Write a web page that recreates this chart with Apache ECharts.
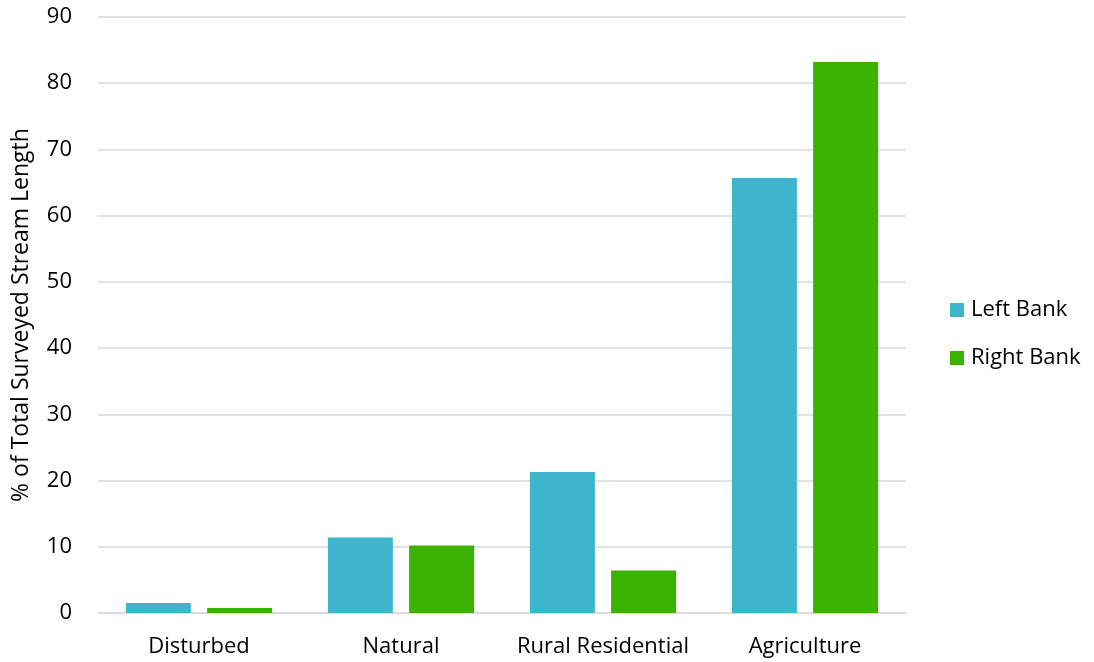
<!DOCTYPE html>
<html>
<head>
<meta charset="utf-8">
<script src="https://cdn.jsdelivr.net/npm/echarts@6/dist/echarts.min.js"></script>
<style>
  html, body { margin: 0; padding: 0; background: #fff; }
  #chart { width: 1094px; height: 662px; }
</style>
</head>
<body>
<div id="chart"></div>
<script>
// Land use along surveyed stream banks, percent of total length
const categories = ['Disturbed', 'Natural', 'Rural Residential', 'Agriculture'];
const leftBank = [1.5, 11.4, 21.3, 65.7];
const rightBank = [0.75, 10.2, 6.4, 83.2];
const seriesNames = ['Left Bank', 'Right Bank'];
const yAxisTitle = '% of Total Surveyed Stream Length';

const FONT = 'Open Sans';
const SIZE = 22;
const chart = echarts.init(document.getElementById('chart'), null, { renderer: 'canvas' });

chart.setOption({
  animation: false,
  color: ['#3cb5cd', '#3cb200'],
  textStyle: { fontFamily: FONT },
  grid: { left: 98, right: 188, top: 17, bottom: 49, containLabel: false, outerBoundsMode: 'none' },
  legend: {
    orient: 'vertical',
    left: 945,
    top: 294,
    itemWidth: 14,
    itemHeight: 14,
    itemGap: 26,
    icon: 'rect',
    textStyle: { fontSize: SIZE, color: '#000', fontFamily: FONT, padding: [0, 0, 0, 2] },
    data: seriesNames
  },
  xAxis: {
    type: 'category',
    data: categories,
    axisTick: { show: false },
    axisLine: { lineStyle: { color: '#d9d9d9', width: 1.5 } },
    axisLabel: { fontSize: SIZE, color: '#000', margin: 23, interval: 0, fontFamily: FONT }
  },
  yAxis: {
    type: 'value',
    min: 0,
    max: 90,
    interval: 10,
    name: yAxisTitle,
    nameLocation: 'middle',
    nameGap: 65,
    nameTextStyle: { fontSize: 23, color: '#000', fontFamily: FONT },
    axisLine: { show: false },
    axisTick: { show: false },
    axisLabel: { fontSize: SIZE, color: '#000', margin: 26, fontFamily: FONT },
    splitLine: { lineStyle: { color: '#d9d9d9', width: 1.5 } }
  },
  series: [
    { name: seriesNames[0], type: 'bar', data: leftBank, barWidth: 65, barGap: '25%' },
    { name: seriesNames[1], type: 'bar', data: rightBank, barWidth: 65, barGap: '25%' }
  ]
});
</script>
</body>
</html>
